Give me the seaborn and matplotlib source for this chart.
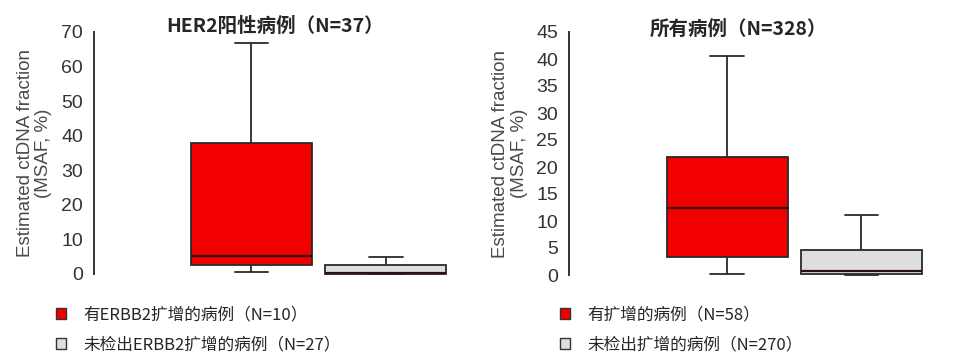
import numpy as np
import pandas as pd
import matplotlib
matplotlib.use("Agg")
import matplotlib.pyplot as plt
import seaborn as sns
from matplotlib.patches import Patch

# ---------------- data (five-number summaries) ----------------
left_title = "HER2阳性病例（N=37）"
left_groups = ["有ERBB2扩增的病例（N=10）", "未检出ERBB2扩增的病例（N=27）"]
left_pos = [0.6, 2.6, 5.2, 37.9, 66.8]     # min, q1, median, q3, max
left_neg = [0.0, 0.0, 0.4, 2.6, 5.0]
left_ticks = [0, 10, 20, 30, 40, 50, 60, 70]

right_title = "所有病例（N=328）"
right_groups = ["有扩增的病例（N=58）", "未检出扩增的病例（N=270）"]
right_pos = [0.1, 3.3, 12.4, 21.9, 40.5]
right_neg = [0.0, 0.1, 0.8, 4.6, 11.1]
right_ticks = [0, 5, 10, 15, 20, 25, 30, 35, 40, 45]

ylabel = "Estimated ctDNA fraction\n(MSAF, %)"
colors = ["#F20000", "#DEDEDE"]

sns.set_theme(style="white")
plt.rcParams["font.family"] = ["Liberation Sans", "DejaVu Sans"]
CJK = ["Noto Sans CJK SC", "DejaVu Sans"]

W, H = 958, 357
fig = plt.figure(figsize=(W / 100, H / 100), dpi=100)


def panel(rect, groups, pos, neg, ticks, xlim, title, title_xy, legend_x):
    ax = fig.add_axes(rect)
    df = pd.DataFrame({
        "group": [groups[0]] * len(pos) + [groups[1]] * len(neg),
        "value": pos + neg,
    })
    sns.boxplot(data=df, x="group", y="value", hue="group", order=groups,
                hue_order=groups, palette=dict(zip(groups, colors)),
                saturation=1, width=0.9, whis=(0, 100), linecolor="#2a2a2a",
                linewidth=1.3, legend=False, ax=ax, capwidths=0.25,
                medianprops={"color": "#2a1010", "linewidth": 1.6})
    for art in ax.patches + ax.lines:
        art.set_clip_on(False)
    ax.set_xlim(*xlim)
    ax.set_ylim(ticks[0], ticks[-1])
    ax.set_yticks(ticks)
    ax.set_yticklabels([str(t) for t in ticks], family="Liberation Sans")
    ax.set_xticks([])
    ax.set_xlabel("")
    ax.set_ylabel(ylabel, fontsize=13.5, color="#4a4a4a", linespacing=1.1,
                  family="Liberation Sans")
    ax.yaxis.set_label_coords(-0.113, 0.5)
    ax.tick_params(axis="y", length=0, pad=8, labelsize=14, labelcolor="#333333")
    for s in ["top", "right", "bottom"]:
        ax.spines[s].set_visible(False)
    ax.spines["left"].set_color("#333333")
    ax.spines["left"].set_linewidth(1.4)
    ax.set_facecolor("none")
    fig.text(title_xy[0] / W, 1 - title_xy[1] / H, title, ha="center", va="center",
             fontsize=14, fontweight="bold", family=CJK)
    handles = [Patch(facecolor=c, edgecolor="#333333", linewidth=1.0) for c in colors]
    fig.legend(handles, groups, loc="upper left",
               bbox_to_anchor=(legend_x / W, 1 - 306 / H), frameon=False,
               borderaxespad=0, borderpad=0, handlelength=0.62, handleheight=0.62,
               handletextpad=1.0, labelspacing=0.78,
               prop={"family": CJK, "size": 12})
    return ax


panel([94 / W, 83 / H, 372.6 / W, 242 / H], left_groups, left_pos, left_neg,
      left_ticks, (-1.17, 1.6), left_title, (275, 26), 56)
panel([569 / W, 82 / H, 366 / W, 243 / H], right_groups, right_pos, right_neg,
      right_ticks, (-1.18, 1.55), right_title, (738, 29), 560)

fig.savefig("out.png", dpi=100)
